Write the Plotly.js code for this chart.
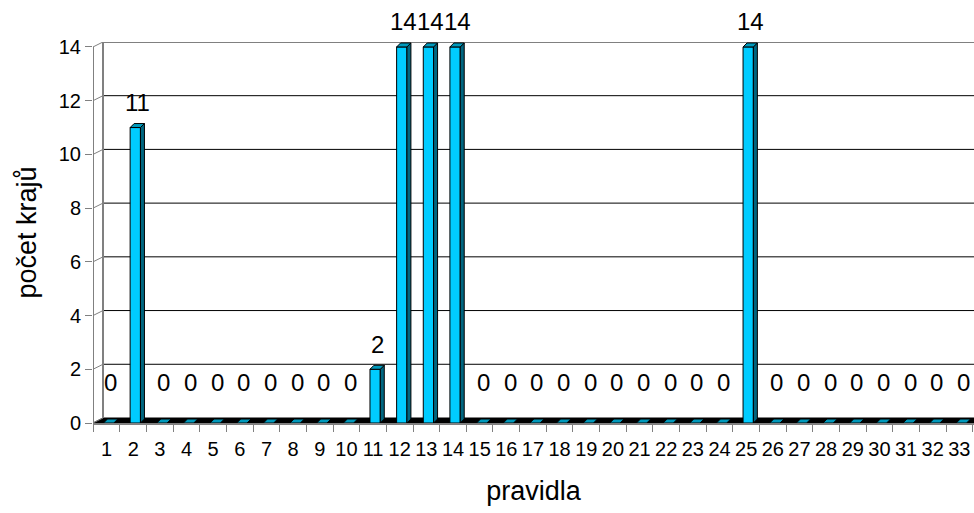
<!DOCTYPE html>
<html><head><meta charset="utf-8">
<script src="https://cdn.plot.ly/plotly-3.0.1.min.js"></script>
<style>html,body{margin:0;padding:0;background:#fff}#chart{width:974px;height:513px}</style>
</head><body><div id="chart"></div>
<script>
// ---- data ----
const categories = [1,2,3,4,5,6,7,8,9,10,11,12,13,14,15,16,17,18,19,20,21,22,23,24,25,26,27,28,29,30,31,32,33];
const categoryLabels = categories.map(String);
const values = [0,11,0,0,0,0,0,0,0,0,2,14,14,14,0,0,0,0,0,0,0,0,0,0,14,0,0,0,0,0,0,0,0];
const yTickValues = [0,2,4,6,8,10,12,14];
const xTitle = 'pravidla';
const yTitle = 'počet krajů';

// ---- geometry / style ----
const W = 974, H = 513;
const M = {l: 93, r: 0, t: 42, b: 90};
const plotW = W - M.l - M.r, plotH = H - M.t - M.b;
const xRange = [0.49, 33.55];
const pxX = plotW / (xRange[1] - xRange[0]);
const pxY = 26.86;
const yRange = [0, plotH / pxY];
const dX = 10 / pxX, dY = 5 / pxY;        // depth of back wall
const faceOff = -3.1 / pxX, faceW = 10.3 / pxX;
const capX = 4 / pxX, capY = 4 / pxY;     // 3D bar top/side depth
const FONT = 'Liberation Sans, Arial, sans-serif';
const GRAY = '#808080';
const FRONT = '#00CCFF', SIDE = '#006680', TOP = '#0099BB';
const yTop = yTickValues[yTickValues.length - 1];

// top & side faces of 3D bars, from the data
const topX = [], topY = [], sideX = [], sideY = [];
categories.forEach((c, i) => {
  const v = values[i];
  const x0 = c + faceOff, x1 = x0 + faceW;
  topX.push(x0, x1, x1 + capX, x0 + capX, x0, null);
  topY.push(v, v, v + capY, v + capY, v, null);
  if (v > 0) {
    sideX.push(x1, x1 + capX, x1 + capX, x1, x1, null);
    sideY.push(v, v + capY, capY, 0, v, null);
  }
});

const traces = [
  {type: 'bar', x: categories, y: values, width: faceW, offset: faceOff,
   marker: {color: FRONT, line: {color: '#000', width: 1}}, hoverinfo: 'x+y'},
  {type: 'scatter', mode: 'lines', x: sideX, y: sideY, fill: 'toself', fillcolor: SIDE,
   line: {color: '#000', width: 1}, hoverinfo: 'skip'},
  {type: 'scatter', mode: 'lines', x: topX, y: topY, fill: 'toself', fillcolor: TOP,
   line: {color: '#000', width: 1}, hoverinfo: 'skip'}
];

// back wall, floor, side wall lines
const x0 = xRange[0], x1 = xRange[1];
const shapes = [
  {type: 'path', xref: 'x', yref: 'y', layer: 'below',
   path: `M ${x0} 0 L ${x1} 0 L ${x1} ${dY} L ${x0 + dX} ${dY} Z`,
   fillcolor: '#000', line: {color: '#000', width: 1}}
];
yTickValues.forEach(v => {
  if (v > 0) {
    shapes.push({type: 'line', xref: 'x', yref: 'y', layer: 'below',
      x0: x0 + dX, x1: x1, y0: v + dY, y1: v + dY,
      line: {color: v === yTop ? GRAY : '#000', width: v === yTop ? 2 : 1}});
  }
  shapes.push({type: 'line', xref: 'x', yref: 'y', layer: 'below',
    x0: x0, x1: x0 + dX, y0: v, y1: v + dY, line: {color: GRAY, width: 1}});
});
shapes.push({type: 'line', xref: 'x', yref: 'y', layer: 'below',
  x0: x0 + dX, x1: x0 + dX, y0: dY, y1: yTop + dY, line: {color: GRAY, width: 2}});
shapes.push({type: 'line', xref: 'x', yref: 'y', layer: 'below',
  x0: x0, x1: x0, y0: 0, y1: yTop, line: {color: GRAY, width: 2}});

const annotations = categories.map((c, i) => ({
  x: c, y: values[i], xref: 'x', yref: 'y', text: String(values[i]),
  showarrow: false, xshift: 4, yshift: values[i] > 0 ? 25 : 41,
  font: {family: FONT, size: 24, color: '#000'}
}));

const layout = {
  width: W, height: H, margin: M,
  paper_bgcolor: '#fff', plot_bgcolor: '#fff',
  showlegend: false,
  font: {family: FONT, color: '#000'},
  xaxis: {range: xRange, tickvals: categories, ticktext: categoryLabels,
    ticks: 'outside', ticklen: 7, tickcolor: 'rgba(0,0,0,0)',
    minor: {tickvals: categories.map(c => c - 0.5).concat([categories.length + 0.5]),
            ticks: 'outside', ticklen: 7, tickcolor: GRAY, tickwidth: 1, showgrid: false},
    showgrid: false, zeroline: false, showline: true, linecolor: GRAY, linewidth: 2,
    tickfont: {family: FONT, size: 20, color: '#000'},
    title: {text: xTitle, font: {family: FONT, size: 27, color: '#000'}, standoff: 22},
    fixedrange: true},
  yaxis: {range: yRange, tickvals: yTickValues, ticks: 'outside', ticklen: 7,
    tickcolor: GRAY, tickwidth: 1, showgrid: false, zeroline: false, showline: false,
    tickfont: {family: FONT, size: 20, color: '#000'},
    title: {text: yTitle, font: {family: FONT, size: 27, color: '#000'}, standoff: 14},
    fixedrange: true},
  shapes: shapes,
  annotations: annotations
};

Plotly.newPlot('chart', traces, layout, {displayModeBar: false, staticPlot: true});
</script>
</body></html>
